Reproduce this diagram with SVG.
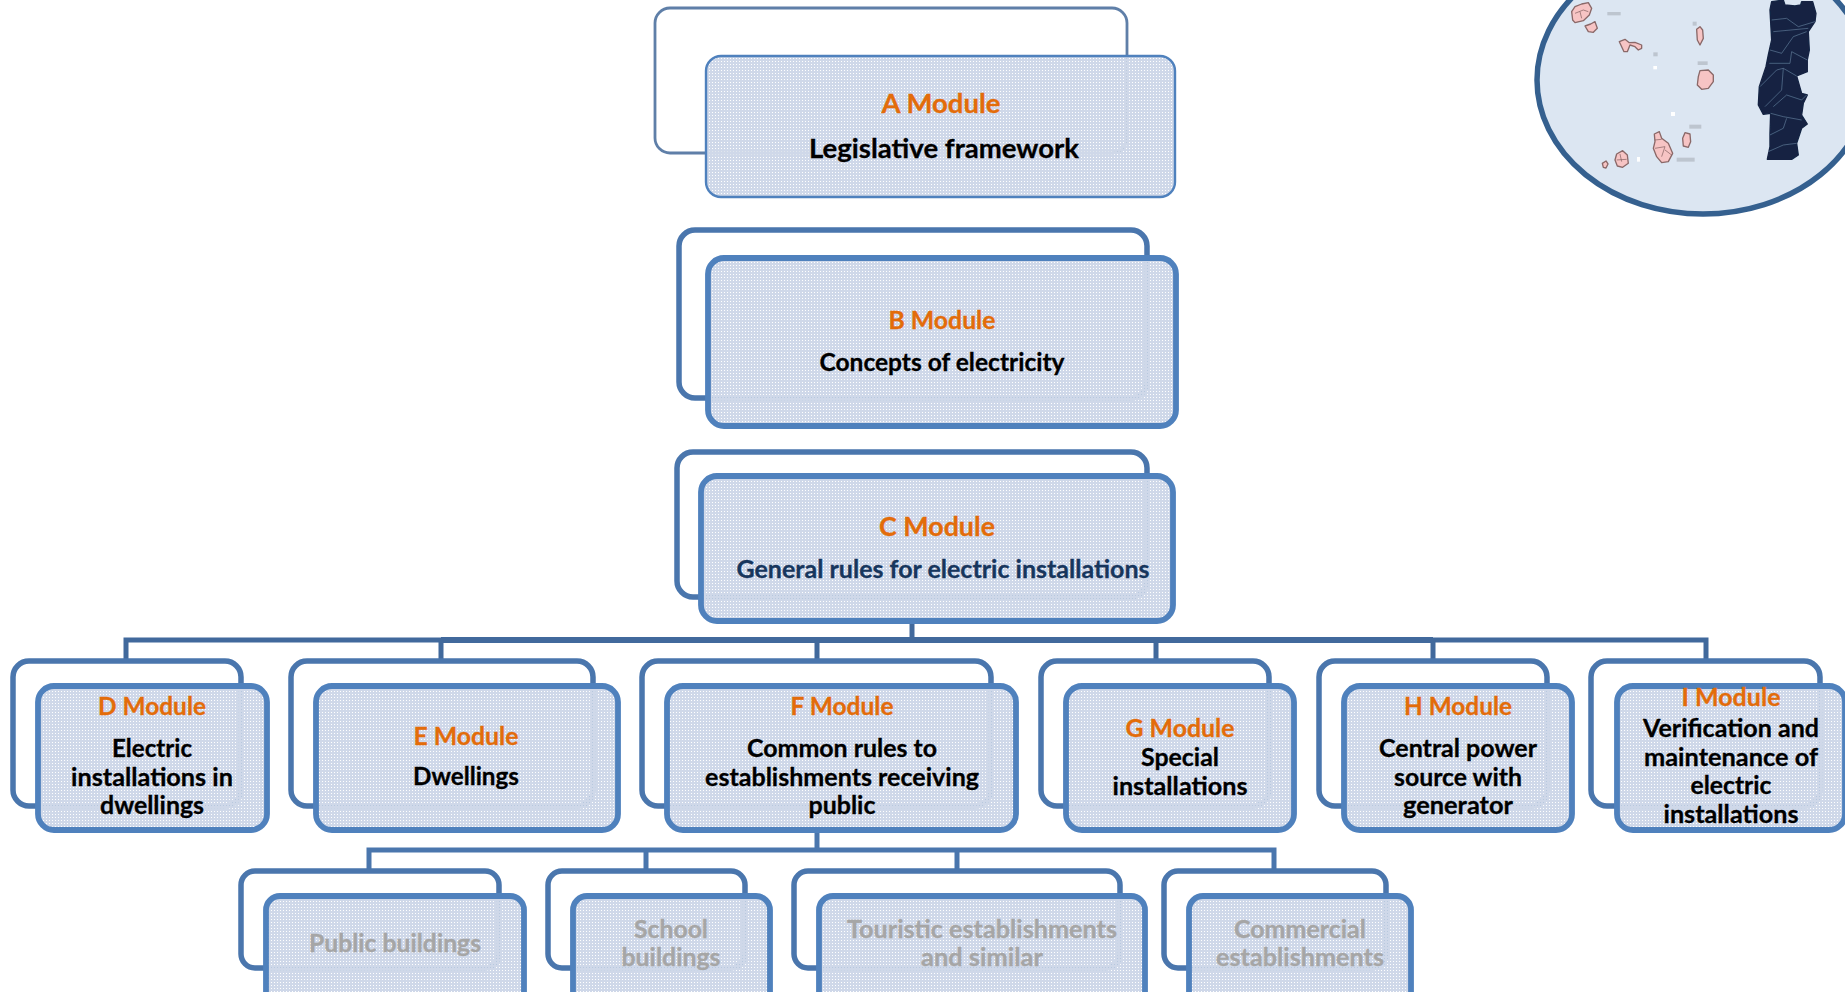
<svg xmlns="http://www.w3.org/2000/svg" width="1845" height="992" viewBox="0 0 1845 992">
<style>
text{font-family:Lato,Carlito,"Liberation Sans",sans-serif;font-weight:700;text-anchor:middle;font-size:25px;fill:#000;stroke:#000;stroke-width:.3}
.m{fill:#e36c0a;stroke:#e36c0a}
.g{fill:#a6a6a6;stroke:#a6a6a6}
.n{fill:#17365d;stroke:#17365d}
.l{font-size:27.5px}
.back{fill:#fff;stroke:#4a76ad;stroke-width:5.5}
.front{fill:url(#dots);stroke:#4f81bd;stroke-width:5.8}
.thin{stroke-width:2.4}
.a{fill:#fff;stroke:#5f7fa8;stroke-width:2.8}
.con{fill:none;stroke:#41699c;stroke-width:5}
.isl{fill:#f7c4c4;stroke:#8a6868;stroke-width:4;stroke-linejoin:round}
.il{fill:none;stroke:#7d5a5a;stroke-width:2}
.pl{fill:none;stroke:#6f84a3;stroke-width:1.8}
.sm{fill:#8f949c;opacity:.4}
</style>
<defs>
<pattern id="dots" width="3" height="3" patternUnits="userSpaceOnUse"><path d="M0 0H3V3H0ZM1 1V2H2V1Z" fill="#cfd8e9" fill-rule="evenodd"/><rect x="1" y="1" width="1" height="1" fill="#fff" opacity=".6"/></pattern>
<filter id="soft" x="-5%" y="-5%" width="110%" height="110%"><feGaussianBlur stdDeviation="0.5"/></filter>
</defs>
<rect width="1845" height="992" fill="#fff"/>
<g id="map">
<ellipse cx="1703" cy="80" rx="166" ry="134" fill="#dce6f2" stroke="#35608f" stroke-width="5.5"/>
<g transform="translate(1520,0) scale(.3333)" filter="url(#soft)">
<path fill="#132443" stroke="#132443" stroke-width="4" stroke-linejoin="round" d="M755 5L790 0L795 15L825 18L842 15L845 5L878 5L888 40L885 65L865 95L868 150L862 180L862 215L830 228L845 280L862 285L850 310L845 345L862 372L845 385L830 430L835 465L815 478L742 478L750 440L750 400L752 340L730 343L715 315L718 260L738 200L745 165L755 120L750 30Z"/>
<path class="pl" d="M755 60L800 55L835 80L885 65M760 95L865 85M750 150L785 160L820 110L860 95M748 190L810 190L815 155L862 180M720 260L770 210L790 205L830 228M790 205L785 270L735 320M760 320L800 285L845 300L860 285M752 340L790 350L845 360M750 405L790 385L800 355M745 455L790 435L830 430"/>
<path class="isl" d="M155 35L165 20L185 12L205 8L215 25L208 45L190 62L165 68L158 60Z"/>
<path class="il" d="M165 40L190 30L205 35M180 35L185 55"/>
<path class="isl" d="M195 78L212 72L225 65L232 85L220 97L205 95Z"/>
<path class="isl" d="M298 125L315 118L328 128L345 127L365 135L365 145L355 150L345 140L330 135L322 155L312 155L305 140Z"/>
<path class="isl" d="M530 88L540 80L548 90L550 115L540 135L532 120Z"/>
<path class="isl" d="M535 230L540 212L565 210L580 225L580 245L565 265L545 268L532 255Z"/>
<path class="isl" d="M488 415L495 398L510 402L512 425L505 442L490 438Z"/>
<path class="isl" d="M403 402L418 395L425 415L445 430L458 460L445 485L425 488L410 470L400 445L405 425Z"/>
<path class="il" d="M405 420L425 418M405 445L435 440L425 470M435 450L455 465"/>
<path class="isl" d="M285 480L290 462L308 452L322 465L325 490L308 502L292 498Z"/>
<path class="il" d="M300 462L305 485M290 480L320 478"/>
<path class="isl" d="M247 490L258 483L264 492L258 504L250 502Z"/>
<rect x="262" y="36" width="40" height="10" class="sm"/>
<rect x="518" y="65" width="12" height="12" class="sm"/>
<rect x="400" y="157" width="13" height="12" class="sm"/>
<rect x="533" y="184" width="30" height="11" class="sm"/>
<rect x="508" y="374" width="36" height="12" class="sm"/>
<rect x="470" y="473" width="54" height="12" class="sm"/>
<rect x="400" y="198" width="11" height="10" fill="#fff"/>
<rect x="453" y="336" width="12" height="12" fill="#fff"/>
<rect x="351" y="471" width="9" height="14" fill="#fff"/>
</g>
</g>
<g id="connectors" class="con">
<path d="M912 621V640"/>
<path d="M126 660V640H441"/>
<path d="M1433 640H1706V660"/>
<path d="M441 640H1433" stroke-width="6"/>
<path d="M441 640V660M817 640V660M1156 640V660M1433 640V660"/>
<path d="M817 830V850" stroke="#4a76ad"/>
<path d="M369 871V850H1274V871" stroke="#4a76ad"/>
<path d="M646 850V871M957 850V871" stroke="#4a76ad"/>
</g>
<g id="node-a">
<rect class="a" x="655" y="8" width="472" height="145" rx="15" filter="url(#soft)"/>
<rect class="front thin" x="706" y="56" width="469" height="141" rx="15"/>
<text class="m l" x="941" y="113" textLength="119" lengthAdjust="spacingAndGlyphs">A Module</text>
<text class="l" x="944" y="158" textLength="270" lengthAdjust="spacingAndGlyphs">Legislative framework</text>
</g>
<g id="node-b">
<rect class="back" x="679" y="230" width="468" height="168" rx="16"/>
<rect class="front" x="708" y="258" width="468" height="168" rx="16"/>
<text class="m" x="942" y="329" textLength="107" lengthAdjust="spacingAndGlyphs">B Module</text>
<text x="942" y="370.5" textLength="245" lengthAdjust="spacingAndGlyphs">Concepts of electricity</text>
</g>
<g id="node-c">
<rect class="back" x="677" y="452" width="470" height="145" rx="16"/>
<rect class="front" x="701" y="476" width="472" height="145" rx="16"/>
<text class="m l" x="937" y="536" textLength="116" lengthAdjust="spacingAndGlyphs">C Module</text>
<text class="n" x="943" y="578" textLength="413" lengthAdjust="spacingAndGlyphs">General rules for electric installations</text>
</g>
<g id="node-d">
<rect class="back" x="13" y="661" width="228" height="145" rx="16"/>
<rect class="front" x="38" y="686" width="229" height="144" rx="16"/>
<text class="m" x="152" y="715" textLength="108" lengthAdjust="spacingAndGlyphs">D Module</text>
<text x="152" y="756.5" textLength="80" lengthAdjust="spacingAndGlyphs">Electric</text>
<text x="152" y="785.5" textLength="162" lengthAdjust="spacingAndGlyphs">installations in</text>
<text x="152" y="813.5" textLength="104" lengthAdjust="spacingAndGlyphs">dwellings</text>
</g>
<g id="node-e">
<rect class="back" x="291" y="661" width="302" height="145" rx="16"/>
<rect class="front" x="316" y="686" width="302" height="144" rx="16"/>
<text class="m" x="466" y="745" textLength="105" lengthAdjust="spacingAndGlyphs">E Module</text>
<text x="466" y="785" textLength="106" lengthAdjust="spacingAndGlyphs">Dwellings</text>
</g>
<g id="node-f">
<rect class="back" x="642" y="661" width="349" height="145" rx="16"/>
<rect class="front" x="667" y="686" width="349" height="144" rx="16"/>
<text class="m" x="842" y="715" textLength="103" lengthAdjust="spacingAndGlyphs">F Module</text>
<text x="842" y="756.5" textLength="190" lengthAdjust="spacingAndGlyphs">Common rules to</text>
<text x="842" y="785.5" textLength="274" lengthAdjust="spacingAndGlyphs">establishments receiving</text>
<text x="842" y="813.5" textLength="67" lengthAdjust="spacingAndGlyphs">public</text>
</g>
<g id="node-g">
<rect class="back" x="1041" y="661" width="228" height="145" rx="16"/>
<rect class="front" x="1066" y="686" width="228" height="144" rx="16"/>
<text class="m" x="1180" y="736.5" textLength="109" lengthAdjust="spacingAndGlyphs">G Module</text>
<text x="1180" y="765.5" textLength="78" lengthAdjust="spacingAndGlyphs">Special</text>
<text x="1180" y="794.5" textLength="135" lengthAdjust="spacingAndGlyphs">installations</text>
</g>
<g id="node-h">
<rect class="back" x="1319" y="661" width="228" height="145" rx="16"/>
<rect class="front" x="1344" y="686" width="228" height="144" rx="16"/>
<text class="m" x="1458" y="715" textLength="108" lengthAdjust="spacingAndGlyphs">H Module</text>
<text x="1458" y="756.5" textLength="158" lengthAdjust="spacingAndGlyphs">Central power</text>
<text x="1458" y="785.5" textLength="128" lengthAdjust="spacingAndGlyphs">source with</text>
<text x="1458" y="813.5" textLength="110" lengthAdjust="spacingAndGlyphs">generator</text>
</g>
<g id="node-i">
<rect class="back" x="1591" y="661" width="229" height="145" rx="16"/>
<rect class="front" x="1617" y="686" width="228" height="144" rx="16"/>
<text class="m" x="1731" y="705.5" textLength="99" lengthAdjust="spacingAndGlyphs">I Module</text>
<text x="1731" y="736.5" textLength="176" lengthAdjust="spacingAndGlyphs">Verification and</text>
<text x="1731" y="765.5" textLength="174" lengthAdjust="spacingAndGlyphs">maintenance of</text>
<text x="1731" y="794" textLength="81" lengthAdjust="spacingAndGlyphs">electric</text>
<text x="1731" y="823" textLength="135" lengthAdjust="spacingAndGlyphs">installations</text>
</g>
<g id="node-public">
<rect class="back" x="241" y="871" width="258" height="97" rx="14"/>
<rect class="front" x="266" y="896" width="258" height="110" rx="14"/>
<text class="g" x="395" y="952" textLength="172" lengthAdjust="spacingAndGlyphs">Public buildings</text>
</g>
<g id="node-school">
<rect class="back" x="548" y="871" width="197" height="97" rx="14"/>
<rect class="front" x="573" y="896" width="197" height="110" rx="14"/>
<text class="g" x="671" y="937.5" textLength="74" lengthAdjust="spacingAndGlyphs">School</text>
<text class="g" x="671" y="966" textLength="99" lengthAdjust="spacingAndGlyphs">buildings</text>
</g>
<g id="node-tourist">
<rect class="back" x="794" y="871" width="326" height="97" rx="14"/>
<rect class="front" x="819" y="896" width="326" height="110" rx="14"/>
<text class="g" x="982" y="937.5" textLength="270" lengthAdjust="spacingAndGlyphs">Touristic establishments</text>
<text class="g" x="982" y="966" textLength="122" lengthAdjust="spacingAndGlyphs">and similar</text>
</g>
<g id="node-commercial">
<rect class="back" x="1164" y="871" width="222" height="97" rx="14"/>
<rect class="front" x="1189" y="896" width="222" height="110" rx="14"/>
<text class="g" x="1300" y="937.5" textLength="132" lengthAdjust="spacingAndGlyphs">Commercial</text>
<text class="g" x="1300" y="966" textLength="168" lengthAdjust="spacingAndGlyphs">establishments</text>
</g>
</svg>
